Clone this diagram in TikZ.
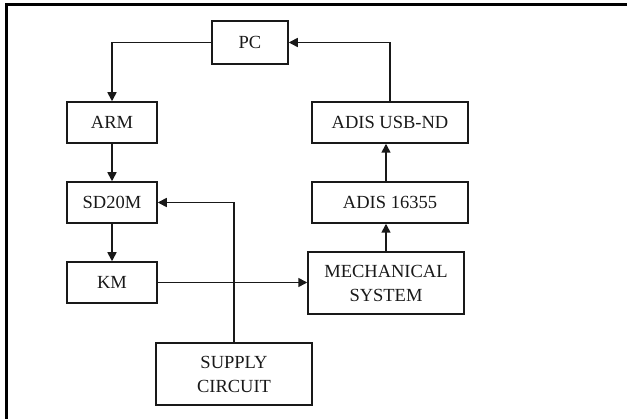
\documentclass[tikz,border=0pt]{standalone}
\usepackage{fontspec}
\setmainfont{Liberation Serif}
\usetikzlibrary{arrows.meta}
\begin{document}
\begin{tikzpicture}[x=1pt,y=-1pt,
  blk/.style={draw=black!90,line width=1.5pt,inner sep=0pt,align=center,
    font=\fontsize{18.5}{24}\selectfont,text=black!90},
  conn/.style={draw=black!90,line width=1.6pt,-{Triangle[length=9pt,width=9pt]}}]
\useasboundingbox (0,0) rectangle (627,419);
\draw[line width=2.4pt] (6.5,419) -- (6.5,4.5) -- (627,4.5);
\node[blk,minimum width=76pt,minimum height=43pt] (pc) at (250,42.5) {PC};
\node[blk,minimum width=90pt,minimum height=41pt] (arm) at (112,122.5) {ARM};
\node[blk,minimum width=156pt,minimum height=41pt] (usb) at (390,122.5) {ADIS USB-ND};
\node[blk,minimum width=90pt,minimum height=41pt] (sd) at (112,202.5) {SD20M};
\node[blk,minimum width=156pt,minimum height=41pt] (adis) at (390,202.5) {ADIS 16355};
\node[blk,minimum width=90pt,minimum height=41pt] (km) at (112,282.5) {KM};
\node[blk,minimum width=156pt,minimum height=62pt] (mech) at (386,283) {MECHANICAL\\SYSTEM};
\node[blk,minimum width=156pt,minimum height=62pt] (sup) at (234,374) {SUPPLY\\CIRCUIT};
\draw[conn] (pc.west) -| (arm.north);
\draw[conn] (usb.north) |- (pc.east);
\draw[conn] (arm.south) -- (sd.north);
\draw[conn] (sd.south) -- (km.north);
\draw[conn] (mech.north) -- (mech.north |- adis.south);
\draw[conn] (adis.north -| mech.north) -- (usb.south -| mech.north);
\draw[conn] (km.east) -- (km.east -| mech.west);
\draw[conn] (sup.north) |- (sd.east);
\end{tikzpicture}
\end{document}
